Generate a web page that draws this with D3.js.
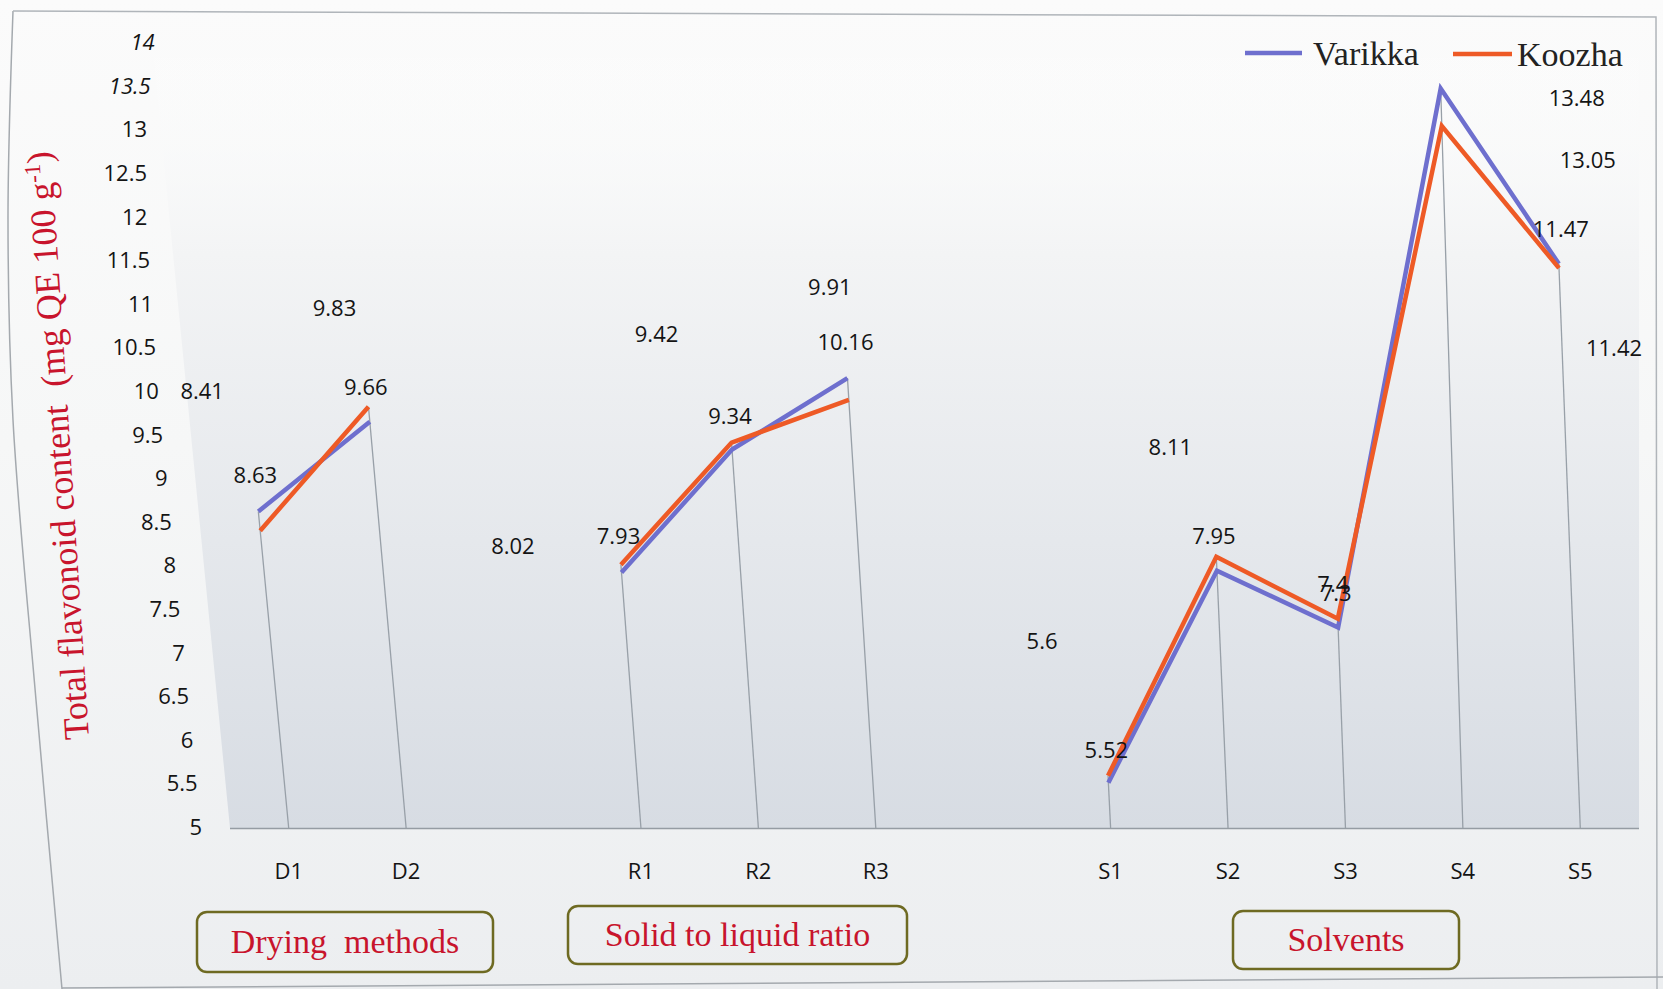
<!DOCTYPE html>
<html>
<head>
<meta charset="utf-8">
<script src="https://cdn.jsdelivr.net/npm/d3@7"></script>
<style>
  html, body { margin: 0; padding: 0; background: #eef0f1; }
  svg { display: block; }
  text { white-space: pre; }
</style>
</head>
<body>
<svg id="chart" width="1663" height="989"></svg>
<script>
// ---- data ----
const categories = ["D1", "D2", "R1", "R2", "R3", "S1", "S2", "S3", "S4", "S5"];
const groupNames = ["Drying  methods", "Solid to liquid ratio", "Solvents"];
const groupSizes = [2, 3, 5];
const seriesNames = ["Varikka", "Koozha"];
const varikka = [8.63, 9.66, 7.93, 9.34, 10.16, 5.52, 7.95, 7.3, 13.48, 11.47];
const koozha  = [8.41, 9.83, 8.02, 9.42, 9.91, 5.6, 8.11, 7.4, 13.05, 11.42];
const yTickValues = [5, 5.5, 6, 6.5, 7, 7.5, 8, 8.5, 9, 9.5, 10, 10.5, 11, 11.5, 12, 12.5, 13, 13.5, 14];

// ---- styling / layout ----
const seriesColors = ["#6e6fce", "#ee5a26"];
const numFont = "'Open Sans', sans-serif";
const serifFont = "'Liberation Serif', 'Times New Roman', serif";
const red = "#c8142c";

// label offsets from each point (px)
const varikkaLabelShift = [[-3,-36],[-4,-35],[-3,-36],[-2,-33],[-2,-36],[-2,-33],[-3,-35],[-2,-34],[136,10],[2,-35]];
const koozhaLabelShift  = [[-58,-140],[-34,-99],[-108,-19],[-75,-108],[-19,-113],[-66,-135],[-46,-110],[-5,-35],[146,34],[55,80]];

// group caption boxes [x0, x1, y0, y1]
const groupBoxes = [[197, 493, 912, 972], [568, 907, 906, 964], [1233, 1459, 911, 969]];

const svg = d3.select("#chart");
const W = 1663, H = 989;
const base = 828, plotLeft = 230, plotRight = 1639;

// slots: categories with an empty slot between groups
const slots = [];
{
  let k = 0;
  groupSizes.forEach((n, gi) => {
    if (gi > 0) slots.push("gap" + gi);
    for (let i = 0; i < n; i++) slots.push(categories[k++]);
  });
}

const x = d3.scaleBand().domain(slots).range([plotLeft, plotRight]).padding(0);
const cx = c => x(c) + x.bandwidth() / 2;
const y = d3.scaleLinear().domain([5, 14]).range([base, base - 9 * 87.2]);

// the sheet leans: verticals tilt left as they rise, more on the left side
const lean = d3.scaleLinear().domain([288, 1463, 1580]).range([0.096, 0.03, 0.038]);
const warp = (u, yy) => [u - lean(u) * (base - yy), yy];
const axisLean = d3.scaleLinear().domain([0, 435, 614, 702, 788]).range([0, 43, 55, 55, 47]);

// ---- background paper ----
const defs = svg.append("defs");
const paper = defs.append("linearGradient").attr("id", "paper").attr("x1", 0).attr("y1", 0).attr("x2", 0).attr("y2", 1);
paper.append("stop").attr("offset", "0%").attr("stop-color", "#fbfbfb");
paper.append("stop").attr("offset", "45%").attr("stop-color", "#f6f7f7");
paper.append("stop").attr("offset", "100%").attr("stop-color", "#eceef0");
svg.append("rect").attr("width", W).attr("height", H).attr("fill", "url(#paper)");

const plotGrad = defs.append("linearGradient").attr("id", "plotfill")
  .attr("gradientUnits", "userSpaceOnUse").attr("x1", 0).attr("y1", 30).attr("x2", 0).attr("y2", base);
plotGrad.append("stop").attr("offset", "0%").attr("stop-color", "#ffffff").attr("stop-opacity", 0);
plotGrad.append("stop").attr("offset", "28%").attr("stop-color", "#f3f4f5");
plotGrad.append("stop").attr("offset", "100%").attr("stop-color", "#d7dce3");

// figure frame
svg.append("path")
  .attr("d", d3.line().curve(d3.curveCatmullRom)([[62, 989], [36, 700], [13, 420], [8, 220], [13, 11]]))
  .attr("fill", "none").attr("stroke", "#a4a9ae").attr("stroke-width", 1.5);
svg.append("path")
  .attr("d", d3.line()([[13, 11], [1656, 17], [1657, 989]]))
  .attr("fill", "none").attr("stroke", "#b0b5ba").attr("stroke-width", 1.5);
svg.append("line").attr("x1", 62).attr("y1", 988).attr("x2", 1663).attr("y2", 977)
  .attr("stroke", "#a4a9ae").attr("stroke-width", 1.5);

// ---- plot area ----
const plotTop = 30;
svg.append("path")
  .attr("d", d3.line()([warp(plotLeft, base), warp(plotLeft, plotTop), [plotRight, plotTop], [plotRight, base]]) + "Z")
  .attr("fill", "url(#plotfill)");

// baseline
svg.append("line").attr("x1", plotLeft).attr("x2", plotRight).attr("y1", base + 0.5).attr("y2", base + 0.5)
  .attr("stroke", "#959ca3").attr("stroke-width", 1.5);

const series = [varikka, koozha];
const shifts = [varikkaLabelShift, koozhaLabelShift];

// drop lines
const dropG = svg.append("g");
categories.forEach((c, i) => {
  const top = Math.max(varikka[i], koozha[i]);
  const p = warp(cx(c), y(top));
  dropG.append("line")
    .attr("x1", p[0]).attr("y1", p[1]).attr("x2", cx(c)).attr("y2", base)
    .attr("stroke", "#98a0a8").attr("stroke-width", 1.3);
});

// series lines, broken between groups
const lineGen = d3.line().defined(d => d !== null).x(d => d[0]).y(d => d[1]);
series.forEach((vals, si) => {
  const pts = slots.map(s => {
    const i = categories.indexOf(s);
    return i < 0 ? null : warp(cx(s), y(vals[i]));
  });
  svg.append("path").attr("d", lineGen(pts))
    .attr("fill", "none").attr("stroke", seriesColors[si]).attr("stroke-width", 4.5)
    .attr("stroke-linejoin", "miter").attr("stroke-linecap", "butt");
});

// data labels
series.forEach((vals, si) => {
  vals.forEach((v, i) => {
    const p = warp(cx(categories[i]), y(v));
    svg.append("text")
      .attr("x", p[0] + shifts[si][i][0]).attr("y", p[1] + shifts[si][i][1])
      .attr("dy", "0.36em").attr("text-anchor", "middle")
      .attr("font-family", numFont).attr("font-size", 22).attr("fill", "#141414")
      .text(String(v));
  });
});

// y tick labels
yTickValues.forEach(v => {
  const yy = y(v);
  svg.append("text")
    .attr("x", 202 - axisLean(base - yy)).attr("y", yy - 1)
    .attr("dy", "0.36em").attr("text-anchor", "end")
    .attr("font-family", numFont).attr("font-size", 22).attr("fill", "#141414")
    .attr("font-style", v >= 13.5 ? "italic" : "normal")
    .text(String(v));
});

// x category labels
categories.forEach(c => {
  svg.append("text").attr("x", cx(c)).attr("y", 879).attr("text-anchor", "middle")
    .attr("font-family", numFont).attr("font-size", 22).attr("fill", "#141414").text(c);
});

// y axis title
const title = svg.append("text")
  .attr("transform", "translate(89,739) rotate(-93.7)")
  .attr("font-family", serifFont).attr("font-size", 36).attr("fill", red);
title.append("tspan").text("Total flavonoid content  (mg QE 100 g");
title.append("tspan").attr("baseline-shift", "super").attr("font-size", 23).text("-1");
title.append("tspan").text(")");

// legend
const legend = [[1245, 1302, 53, 1313, 65], [1453, 1512, 54, 1517, 66]];
seriesNames.forEach((n, i) => {
  const L = legend[i];
  svg.append("line").attr("x1", L[0]).attr("x2", L[1]).attr("y1", L[2]).attr("y2", L[2])
    .attr("stroke", seriesColors[i]).attr("stroke-width", 4.5);
  svg.append("text").attr("x", L[3]).attr("y", L[4])
    .attr("font-family", serifFont).attr("font-size", 34).attr("fill", "#222").text(n);
});

// group caption boxes
groupNames.forEach((g, i) => {
  const b = groupBoxes[i];
  svg.append("rect").attr("x", b[0]).attr("y", b[2]).attr("width", b[1] - b[0]).attr("height", b[3] - b[2])
    .attr("rx", 10).attr("ry", 10).attr("fill", "none").attr("stroke", "#6e6a22").attr("stroke-width", 2.5);
  svg.append("text").attr("x", (b[0] + b[1]) / 2).attr("y", (b[2] + b[3]) / 2 + 11)
    .attr("text-anchor", "middle").attr("font-family", serifFont).attr("font-size", 34).attr("fill", red).text(g);
});
</script>
</body>
</html>
